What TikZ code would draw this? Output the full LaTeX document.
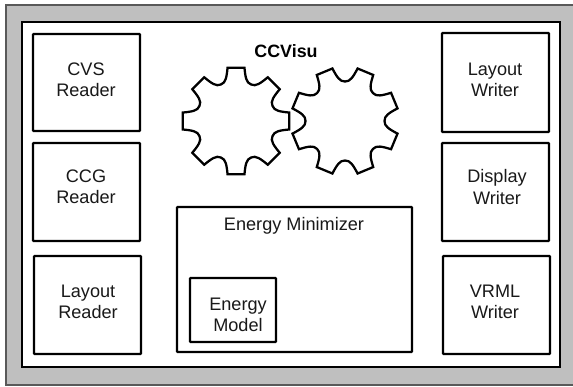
\documentclass[tikz,border=0pt]{standalone}
\usepackage{fontspec}
\setmainfont{Liberation Sans}
\tikzset{
  unit/.style={draw=black, line width=1.6pt, fill=white, rounded corners=0.5pt, inner sep=0pt},
  unittext/.style={align=center, font=\fontsize{13.6}{16}\selectfont, text=black!90},
  gearline/.style={draw=black, line width=1.7pt, line join=miter}
}
% one gear: centre #1, turned by #2
\newcommand{\geardraw}[2]{
  \draw[gearline, shift={#1}]
    (#2+9:54)
    \foreach \a in {0,-45,...,-315} {
      -- (#2+\a-9:54)
      .. controls (#2+\a-12:45) and (#2+\a-15:39.5) .. (#2+\a-22.5:39.5)
      .. controls (#2+\a-30:39.5) and (#2+\a-33:45) .. (#2+\a-36:54)
    } -- cycle;
}
\begin{document}
\begin{tikzpicture}[x=0.75pt, y=-0.75pt]
  \useasboundingbox (0,0) rectangle (573,386);
  % frame
  \fill[white] (0,0) rectangle (573,386);
  \draw[fill=black!25, draw=black!65, line width=0.9pt] (6,5) rectangle (575,385);
  \draw[fill=white, line width=1.6pt] (22,22) rectangle (560,367);
  % readers
  \node[unit, minimum width=80.25pt, minimum height=72.75pt] (cvsreader) at (86.5,82.5) {};
  \node[unit, minimum width=80.25pt, minimum height=73.5pt] (ccgreader) at (86.5,192) {};
  \node[unit, minimum width=80.25pt, minimum height=73.5pt] (layoutreader) at (87.5,305) {};
  \node[unittext] at (86,80) {CVS\\Reader};
  \node[unittext] at (86,187) {CCG\\Reader};
  \node[unittext] at (88,302) {Layout\\Reader};
  % writers
  \node[unit, minimum width=80.25pt, minimum height=74.25pt] (layoutwriter) at (495.5,82.5) {};
  \node[unit, minimum width=80.25pt, minimum height=73.5pt] (displaywriter) at (495.5,192) {};
  \node[unit, minimum width=80.25pt, minimum height=73.5pt] (vrmlwriter) at (496.5,305) {};
  \node[unittext] at (495,80) {Layout\\Writer};
  \node[unittext] at (497,187) {Display\\Writer};
  \node[unittext] at (495,302) {VRML\\Writer};
  % energy
  \node[unit, minimum width=176.25pt, minimum height=108.75pt] (minimizer) at (294.5,279.5) {};
  \node[unittext] at (294,226) {Energy Minimizer};
  \node[unit, minimum width=64.5pt, minimum height=48pt] (model) at (233,310) {};
  \node[unittext] at (238,315) {Energy\\Model};
  % gears
  \node[font=\fontsize{13.4}{16}\selectfont\bfseries] (title) at (286,51) {CCVisu};
  \geardraw{(236,121)}{0}
  \geardraw{(345,121)}{22.5}
\end{tikzpicture}
\end{document}
